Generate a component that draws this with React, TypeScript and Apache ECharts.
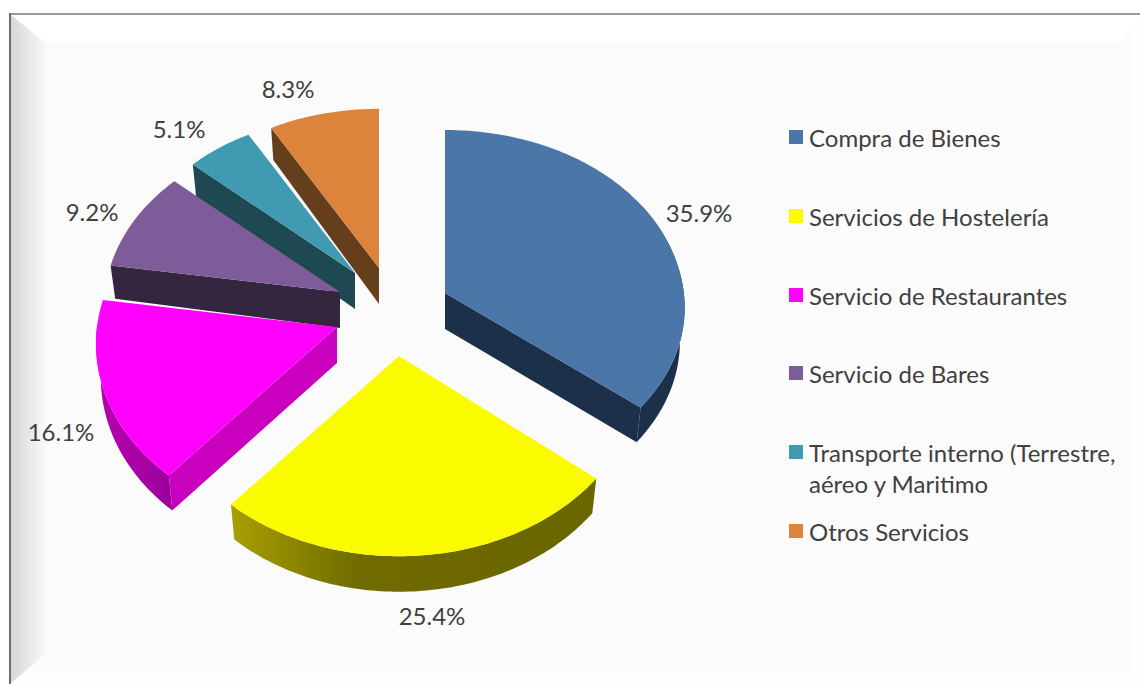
import React, { useEffect, useRef } from "react";
import * as echarts from "echarts";

const categories = [
  "Compra de Bienes",
  "Servicios de Hostelería",
  "Servicio de Restaurantes",
  "Servicio de Bares",
  "Transporte interno (Terrestre,",
  "Otros Servicios",
];
const legendSecondLine = "aéreo y Maritimo";
const shares = [35.9, 25.4, 16.1, 9.2, 5.1, 8.3];

const topColors = ["#4A76A8", "#FBFB00", "#FF00FF", "#7E5C9A", "#3F9AB2", "#DD843C"];
const wallColors = ["#1C3049", "#6E6A00", "#C900BE", "#35263F", "#1E4852", "#653F1C"];
const apexX = [445, 399, 337, 340, 355, 379];
const apexY = [293, 356, 327, 292, 273, 268];
const radiusScale = [0.995, 1, 1, 0.98, 0.96, 0.972];
const nearScale = [0.94, 1, 1, 1, 1, 1];
const labelX = [699, 432, 61, 92, 179, 288];
const labelY = [212, 615, 431, 211, 128, 88];
const legendY = [137, 216, 295, 373, 452, 531];
const drawOrder = [5, 6, 4, 3, 2, 1];

const RX = 240;
const RY = 182;
const FONT = "Lato, 'Noto Sans', sans-serif";
const FONT_SIZE = 24;
const TEXT = "#404040";
const APEX_DEPTH = 36;

// Excel-like perspective: the near side of the pie flares out
function rimPoint(deg: number, i: number): [number, number] {
  const t = (deg * Math.PI) / 180;
  const y0 = -RY * Math.cos(t);
  let y = y0 * (1 + 0.00055 * y0);
  if (y > 0) y *= nearScale[i];
  const x = RX * Math.sin(t) * (1 + 0.0005 * y);
  return [x * radiusScale[i], y * radiusScale[i]];
}
function lowerPoint(p: [number, number]): [number, number] {
  return [p[0] * 0.98, p[1] + 33.5 + 0.01 * p[1]];
}
function arc(a: number, b: number, i: number): [number, number][] {
  const out: [number, number][] = [];
  const n = Math.max(2, Math.ceil(Math.abs(b - a)));
  for (let k = 0; k <= n; k++) out.push(rimPoint(a + ((b - a) * k) / n, i));
  return out;
}

function rimFill(i: number): any {
  if (i === 1)
    return new echarts.graphic.LinearGradient(0, 0, 1, 0, [
      { offset: 0, color: "#A89F00" },
      { offset: 0.35, color: "#6F6B00" },
      { offset: 1, color: "#6A6600" },
    ]);
  if (i === 2)
    return new echarts.graphic.LinearGradient(0, 0, 1, 0, [
      { offset: 0, color: "#B800B0" },
      { offset: 1, color: "#9C009C" },
    ]);
  return wallColors[i];
}

function renderSlice(i: number) {
  return (_params: any, api: any) => {
    const value = api.value(0);
    const total = shares.reduce((a, b) => a + b, 0);
    const before = shares.slice(0, i).reduce((a, b) => a + b, 0);
    const start = (before / total) * 360;
    const end = start + (value / total) * 360;
    const ax = apexX[i];
    const ay = apexY[i];
    const place = (p: [number, number]) => [ax + p[0], ay + p[1]];
    const children: any[] = [];

    const rimA = Math.max(start, 60);
    const rimB = Math.min(end, 270);
    if (rimB > rimA) {
      const top = arc(rimA, rimB, i);
      const bottom = top.map(lowerPoint).reverse();
      children.push({
        type: "polygon",
        shape: { points: [...top, ...bottom].map(place) },
        style: { fill: rimFill(i) },
      });
    }
    const wallAngle = start > 180 ? start : end < 180 ? end : null;
    if (wallAngle !== null) {
      const p = rimPoint(wallAngle, i);
      children.push({
        type: "polygon",
        shape: {
          points: [[ax, ay], place(p), place(lowerPoint(p)), [ax, ay + APEX_DEPTH]],
        },
        style: { fill: wallColors[i] },
      });
    }
    children.push({
      type: "polygon",
      shape: { points: [[ax, ay], ...arc(start, end, i).map(place)] },
      style: { fill: topColors[i] },
    });
    children.push({
      type: "text",
      style: {
        text: value.toFixed(1) + "%",
        x: labelX[i],
        y: labelY[i],
        align: "center",
        verticalAlign: "middle",
        font: `${FONT_SIZE}px ${FONT}`,
        fill: TEXT,
      },
    });
    return { type: "group", children };
  };
}

const frame = [
  { type: "rect", shape: { x: 0, y: 0, width: 1140, height: 684 }, style: { fill: "#ffffff" } },
  { type: "rect", shape: { x: 9, y: 13, width: 1131, height: 671 }, style: { fill: "#FBFBFB" } },
  {
    type: "polygon",
    shape: { points: [[10, 14], [1140, 14], [1118, 45], [48, 45]] },
    style: {
      fill: new echarts.graphic.LinearGradient(0, 0, 0, 1, [
        { offset: 0, color: "#FFFFFF" },
        { offset: 0.8, color: "#FFFFFF" },
        { offset: 1, color: "#FCFCFC" },
      ]),
    },
  },
  {
    type: "polygon",
    shape: { points: [[10, 14], [48, 45], [48, 652], [10, 684]] },
    style: {
      fill: new echarts.graphic.LinearGradient(0, 0, 1, 0, [
        { offset: 0, color: "#D6D6D6" },
        { offset: 1, color: "#FBFBFB" },
      ]),
    },
  },
  {
    type: "polygon",
    shape: { points: [[48, 652], [1118, 652], [1140, 684], [10, 684]] },
    style: {
      fill: new echarts.graphic.LinearGradient(0, 0, 0, 1, [
        { offset: 0, color: "#FBFBFB" },
        { offset: 1, color: "#FEFEFE" },
      ]),
    },
  },
  {
    type: "polygon",
    shape: { points: [[1118, 45], [1140, 14], [1140, 684], [1118, 652]] },
    style: {
      fill: new echarts.graphic.LinearGradient(0, 0, 1, 0, [
        { offset: 0, color: "#FBFBFB" },
        { offset: 1, color: "#FEFEFE" },
      ]),
    },
  },
  { type: "line", shape: { x1: 10, y1: 14, x2: 1140, y2: 14 }, style: { stroke: "#9A9A9A", lineWidth: 2 } },
  { type: "line", shape: { x1: 10, y1: 13, x2: 10, y2: 684 }, style: { stroke: "#6E6E6E", lineWidth: 2 } },
  {
    type: "text",
    style: {
      text: legendSecondLine,
      x: 809,
      y: 483,
      verticalAlign: "middle",
      font: `${FONT_SIZE}px ${FONT}`,
      fill: TEXT,
    },
  },
];

export default function App() {
  const ref = useRef<HTMLDivElement>(null);
  useEffect(() => {
    if (!ref.current) return;
    const chart = echarts.init(ref.current, undefined, { renderer: "svg" });
    chart.setOption({
      animation: false,
      backgroundColor: "#ffffff",
      graphic: frame,
      legend: categories.map((name, i) => ({
        data: [name],
        left: 789,
        top: legendY[i] - 15,
        itemWidth: 14,
        itemHeight: 14,
        itemGap: 0,
        padding: 0,
        selectedMode: false,
        icon: "rect",
        textStyle: { fontFamily: FONT, fontSize: FONT_SIZE, color: TEXT, lineHeight: 30, padding: [0, 0, 0, 1] },
      })),
      series: categories.map((name, i) => ({
        type: "custom",
        name,
        coordinateSystem: "none",
        z: 2 + drawOrder[i],
        silent: true,
        itemStyle: { color: topColors[i] },
        data: [[shares[i]]],
        renderItem: renderSlice(i),
      })),
    });
    return () => chart.dispose();
  }, []);
  return <div ref={ref} style={{ position: "absolute", left: 0, top: 0, width: 1140, height: 684 }} />;
}
